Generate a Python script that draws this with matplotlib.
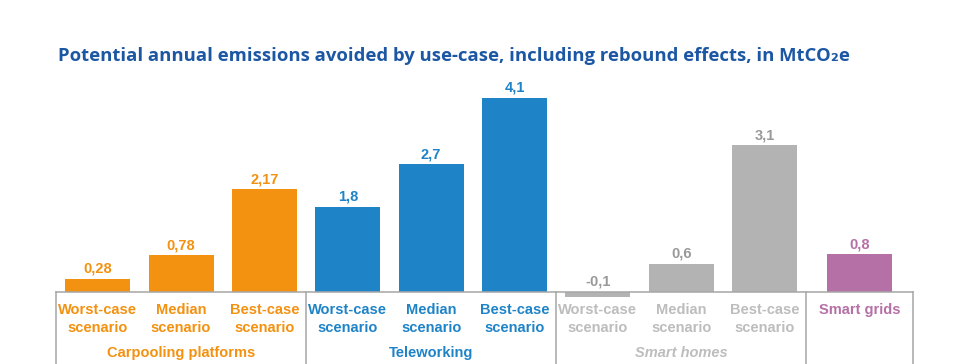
import matplotlib
matplotlib.use("Agg")
import matplotlib.pyplot as plt

# ---- data ----
groups = ["Carpooling platforms", "Teleworking", "Smart homes", ""]
group_sizes = [3, 3, 3, 1]
categories = ["Worst-case\nscenario", "Median\nscenario", "Best-case\nscenario",
              "Worst-case\nscenario", "Median\nscenario", "Best-case\nscenario",
              "Worst-case\nscenario", "Median\nscenario", "Best-case\nscenario",
              "Smart grids"]
values = [0.28, 0.78, 2.17, 1.8, 2.7, 4.1, -0.1, 0.6, 3.1, 0.8]
value_labels = ["0,28", "0,78", "2,17", "1,8", "2,7", "4,1", "-0,1", "0,6", "3,1", "0,8"]

# ---- styles ----
bar_colors = ["#F39110"] * 3 + ["#1F84C7"] * 3 + ["#B3B3B3"] * 3 + ["#B570A6"]
val_colors = ["#F39110"] * 3 + ["#1F84C7"] * 3 + ["#999999"] * 3 + ["#B570A6"]
cat_colors = ["#F39110"] * 3 + ["#1F84C7"] * 3 + ["#BDBDBD"] * 3 + ["#B570A6"]
group_colors = ["#F39110", "#1F84C7", "#BDBDBD", "#B570A6"]
group_styles = ["normal", "normal", "italic", "normal"]
line_color = "#A6A6A6"
FONT = ["Liberation Sans", "DejaVu Sans"]

fig = plt.figure(figsize=(9.59, 3.64), dpi=100)
H = 364.0
ax = fig.add_axes([56 / 959, 72 / H, (913 - 56) / 959, (292 - 70) / H])

# positions: 9 equal slots, last (smart grids) slot is wider
pos = list(range(9)) + [9.14]
ax.bar(pos, values, width=0.78, color=bar_colors, clip_on=False, zorder=2)
ax.set_xlim(-0.5, 9.78)
ax.set_ylim(0, (292 - 70) / 47.4)
ax.axis("off")

# axis line and separators
ax.plot([-0.5, 9.78], [0, 0], color=line_color, lw=1.1, clip_on=False, zorder=3)
for xs in [-0.5, 2.5, 5.5, 8.5, 9.78]:
    ax.plot([xs, xs], [0, -80 / 47.4], color=line_color, lw=1.1, clip_on=False, zorder=3)

# value labels
for x, v, lab, c in zip(pos, values, value_labels, val_colors):
    ax.annotate(lab, xy=(x, max(v, 0)), xytext=(0, 10), textcoords="offset pixels",
                ha="center", va="center", fontsize=10.5, fontweight="bold",
                color=c, family=FONT, annotation_clip=False)

# category labels
for x, cat, c in zip(pos, categories, cat_colors):
    n_lines = cat.count("\n") + 1
    off = -18 - (n_lines - 1) * 9
    ax.annotate(cat, xy=(x, 0), xytext=(0, off), textcoords="offset pixels",
                ha="center", va="center", fontsize=10.5, fontweight="bold",
                color=c, family=FONT, linespacing=1.4, annotation_clip=False)

# group labels
start = 0
for g, n, c, st in zip(groups, group_sizes, group_colors, group_styles):
    if g:
        xc = (pos[start] + pos[start + n - 1]) / 2
        ax.annotate(g, xy=(xc, 0), xytext=(0, -61), textcoords="offset pixels",
                    ha="center", va="center", fontsize=10.5, fontweight="bold",
                    style=st, color=c, family=FONT, annotation_clip=False)
    start += n

# title
fig.text(58 / 959, 1 - 56 / H,
         "Potential annual emissions avoided by use-case, including rebound effects, in MtCO\u2082e",
         ha="left", va="center", fontsize=13.3, fontweight="bold", color="#1C57A3",
         family=["Open Sans", "DejaVu Sans"])

fig.savefig("out.png", dpi=100)
